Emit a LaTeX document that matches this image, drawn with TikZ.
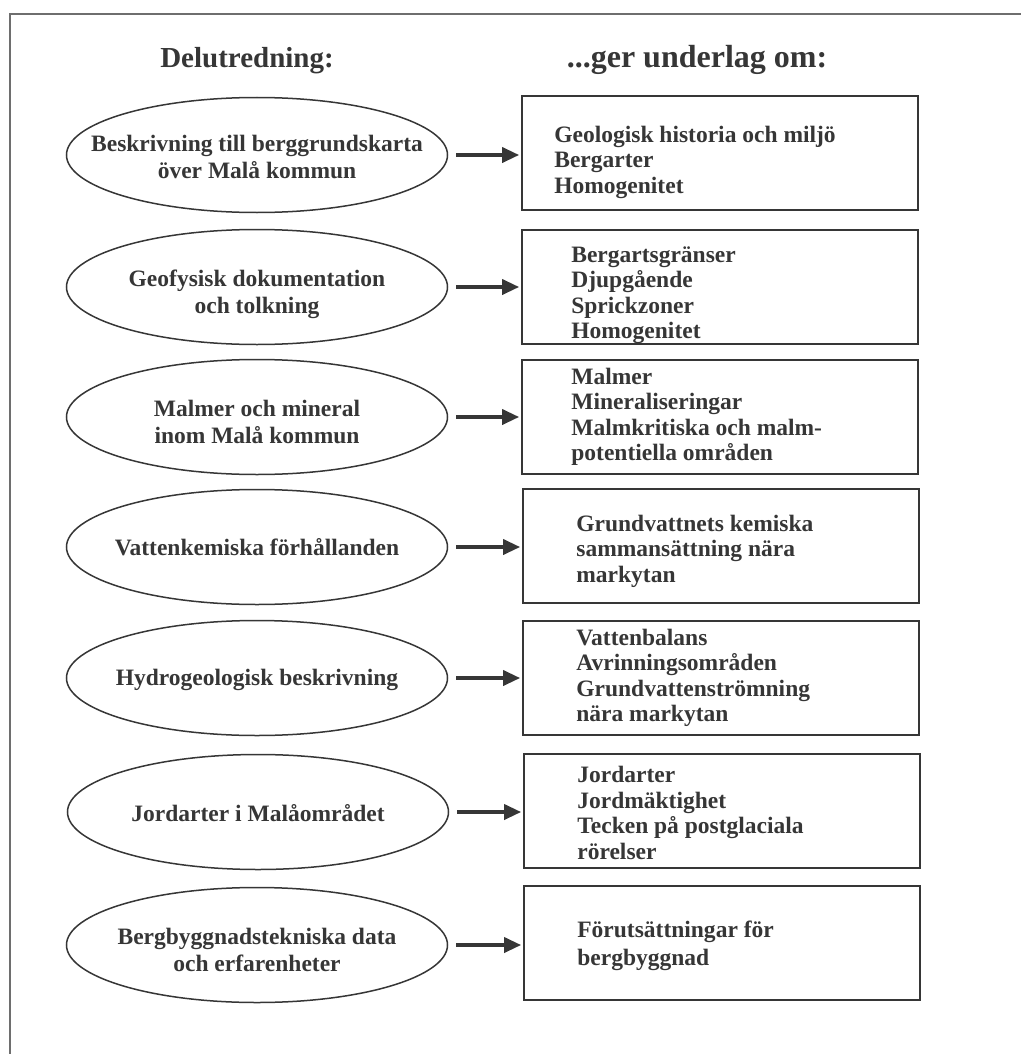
\documentclass[tikz,border=0pt]{standalone}
\usepackage{fontspec}
\setmainfont{Liberation Serif}
\usetikzlibrary{shapes.geometric,arrows.meta}
\definecolor{ink}{HTML}{363636}
\definecolor{framecol}{HTML}{6E6E6E}
\begin{document}
\begin{tikzpicture}[x=1pt,y=-1pt,
  oval/.style={ellipse,draw=ink,line width=1.5pt,minimum width=381pt,minimum height=115pt,inner sep=0pt},
  ovaltext/.style={inner sep=0pt,align=center,font=\fontsize{23.5}{27}\selectfont\bfseries,text=ink},
  infobox/.style={rectangle,draw=ink,line width=1.7pt,minimum width=396pt,minimum height=114pt,inner sep=0pt},
  boxtext/.style={anchor=west,inner sep=0pt,align=left,font=\fontsize{23.5}{25.5}\selectfont\bfseries,text=ink},
  link/.style={draw=ink,line width=3.5pt,-{Triangle[length=17pt,width=15pt]},shorten <=8pt,shorten >=2pt},
  head/.style={font=\fontsize{29}{36}\selectfont\bfseries,text=ink,anchor=base}]
\useasboundingbox (0,0) rectangle (1021,1054);
\fill[white] (0,0) rectangle (1021,1054);
\draw[framecol,line width=1.5pt] (10,1054) -- (10,14) -- (1021,14);

\node[head] (h1) at (247,68) {Delutredning:};
\node[head,font=\fontsize{32}{36}\selectfont\bfseries] (h2) at (697,68) {...ger underlag om:};

% ellipses
\node[oval] (e1) at (257,155) {};
\node[oval] (e2) at (257,287) {};
\node[oval] (e3) at (257,417) {};
\node[oval] (e4) at (257,547) {};
\node[oval] (e5) at (257,678) {};
\node[oval] (e6) at (258,812) {};
\node[oval] (e7) at (257,945) {};
\node[ovaltext] (te1) at ([yshift=-2pt]e1.center) {Beskrivning till berggrundskarta\\över Malå kommun};
\node[ovaltext] (te2) at ([yshift=-7pt]e2.center) {Geofysisk dokumentation\\och tolkning};
\node[ovaltext] (te3) at ([yshift=-5pt]e3.center) {Malmer och mineral\\inom Malå kommun};
\node[ovaltext] (te4) at ([yshift=0pt]e4.center) {Vattenkemiska förhållanden};
\node[ovaltext] (te5) at ([yshift=-2pt]e5.center) {Hydrogeologisk beskrivning};
\node[ovaltext] (te6) at ([yshift=-1pt]e6.center) {Jordarter i Malåområdet};
\node[ovaltext] (te7) at ([yshift=-5pt]e7.center) {Bergbyggnadstekniska data\\och erfarenheter};

% boxes
\node[infobox] (b1) at (720,153) {};
\node[infobox] (b2) at (720,287) {};
\node[infobox] (b3) at (720,417) {};
\node[infobox] (b4) at (721,546) {};
\node[infobox] (b5) at (721,678) {};
\node[infobox] (b6) at (722,811) {};
\node[infobox] (b7) at (722,943) {};
\node[boxtext] (tb1) at ([xshift=33pt,yshift=-9pt]b1.west) {Geologisk historia och miljö\\Bergarter\\Homogenitet};
\node[boxtext] (tb2) at ([xshift=50pt,yshift=-8pt]b2.west) {Bergartsgränser\\Djupgående\\Sprickzoner\\Homogenitet};
\node[boxtext] (tb3) at ([xshift=50pt,yshift=0pt]b3.west) {Malmer\\Mineraliseringar\\Malmkritiska och malm-\\potentiella områden};
\node[boxtext] (tb4) at ([xshift=54pt,yshift=-5pt]b4.west) {Grundvattnets kemiska\\sammansättning nära\\markytan};
\node[boxtext] (tb5) at ([xshift=54pt,yshift=0pt]b5.west) {Vattenbalans\\Avrinningsområden\\Grundvattenströmning\\nära markytan};
\node[boxtext] (tb6) at ([xshift=54pt,yshift=-2pt]b6.west) {Jordarter\\Jordmäktighet\\Tecken på postglaciala\\rörelser};
\node[boxtext,font=\fontsize{23.5}{27.5}\selectfont\bfseries] (tb7) at ([xshift=54pt,yshift=-3pt]b7.west) {Förutsättningar för\\bergbyggnad};

\foreach \i in {1,...,7}{
  \draw[link] (e\i.east) -- (e\i.east -| b\i.west);
}
\end{tikzpicture}
\end{document}
